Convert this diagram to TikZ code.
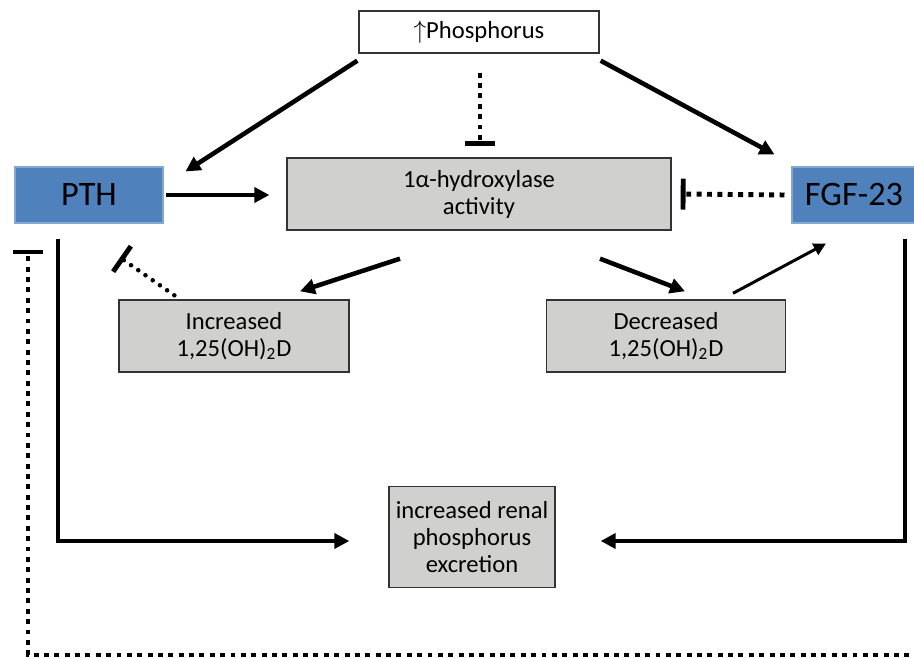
\documentclass[tikz,border=0pt]{standalone}
\usepackage{fontspec}
\setmainfont{Carlito}
\usetikzlibrary{arrows.meta}

\definecolor{hormblue}{HTML}{4F81BD}
\definecolor{stepgrey}{HTML}{D0D1CE}

\tikzset{%
  % Specifications for style of nodes:
         hormone/.style = {rectangle, fill=hormblue, draw=hormblue!70!white, line width=0.6pt, inner sep=0pt, font=\fontsize{19.5}{21}\selectfont},
         process/.style = {rectangle, fill=stepgrey, draw=black!80, line width=0.8pt, inner sep=0pt},
         trigger/.style = {rectangle, fill=white, draw=black!80, line width=0.8pt, inner sep=0pt},
  % Specifications for style of connectors:
         act/.style     = {line width=2.6pt, -{Triangle[length=8.5pt, width=8.5pt]}},
         thinact/.style = {line width=1.7pt, -{Triangle[length=7pt, width=7pt]}},
         blocked/.style = {line width=2.8pt, dash pattern=on 2.8pt off 3.1pt, -{Bar[width=0.62cm, line width=2.8pt]}},
         dotblock/.style= {line width=2.6pt, line cap=round, dash pattern=on 0pt off 5pt, -{Bar[width=0.62cm, line width=2.8pt]}},
}

\begin{document}
\begin{tikzpicture}[x=0.02cm, y=-0.02cm, every node/.style={font=\fontsize{14}{15.4}\selectfont}, align=center]
    \useasboundingbox (0,0) rectangle (914,658);

    % Draw nodes
    \node (phos)  [trigger, minimum width=4.8cm,  minimum height=0.84cm] at (479,32)  {$\uparrow$Phosphorus};
    \node (pth)   [hormone, minimum width=2.96cm, minimum height=1.12cm] at (89,195)  {PTH};
    \node (hyd)   [process, minimum width=7.68cm, minimum height=1.44cm] at (479,194) {1α-hydroxylase\\activity};
    \node (fgf)   [hormone, minimum width=2.48cm, minimum height=1.12cm] at (854,195) {FGF-23};
    \node (inc)   [process, minimum width=4.6cm,  minimum height=1.44cm] at (234,336) {Increased\\1,25(OH)\textsubscript{2}D};
    \node (dec)   [process, minimum width=4.78cm, minimum height=1.44cm] at (666,336) {Decreased\\1,25(OH)\textsubscript{2}D};
    \node (renal) [process, minimum width=3.32cm, minimum height=2.02cm] at (472,537) {increased renal\\phosphorus\\excretion};
    \coordinate (loopin) at (930,655);

    % Draw arrows
    \draw[act]      ([shift={(-1,7)}]phos.south west) -- ([shift={(22,5)}]pth.north east);
    \draw[act]      ([shift={(1,7)}]phos.south east) -- ([shift={(-17,-12)}]fgf.north west);
    \draw[blocked]  ([shift={(1,19)}]phos.south) -- ([shift={(1,-11)}]hyd.north);
    \draw[act]      ([shift={(2,0)}]pth.east) -- ([shift={(-17,1)}]hyd.west);
    \draw[blocked]  ([shift={(-7,0)}]fgf.west) -- ([shift={(9,0)}]hyd.east);

    \draw[act]      ([shift={(-79,28)}]hyd.south) -- ([shift={(66,-8)}]inc.north);
    \draw[act]      ([shift={(121,28)}]hyd.south) -- ([shift={(19,-8)}]dec.north);
    \draw[thinact]  ([shift={(67,-6)}]dec.north) -- ([shift={(-28,20)}]fgf.south);
    \draw[dotblock] ([shift={(56,-4)}]inc.north west) -- ([shift={(31,34)}]pth.south);

    \draw[act]      ([shift={(-31,15)}]pth.south) |- ([shift={(-39,4)}]renal.west);
    \draw[act]      ([shift={(51,15)}]fgf.south) |- ([shift={(45,4)}]renal.east);

    \draw[blocked]  (loopin) -| ([shift={(-61,26)}]pth.south);

\end{tikzpicture}
\end{document}
